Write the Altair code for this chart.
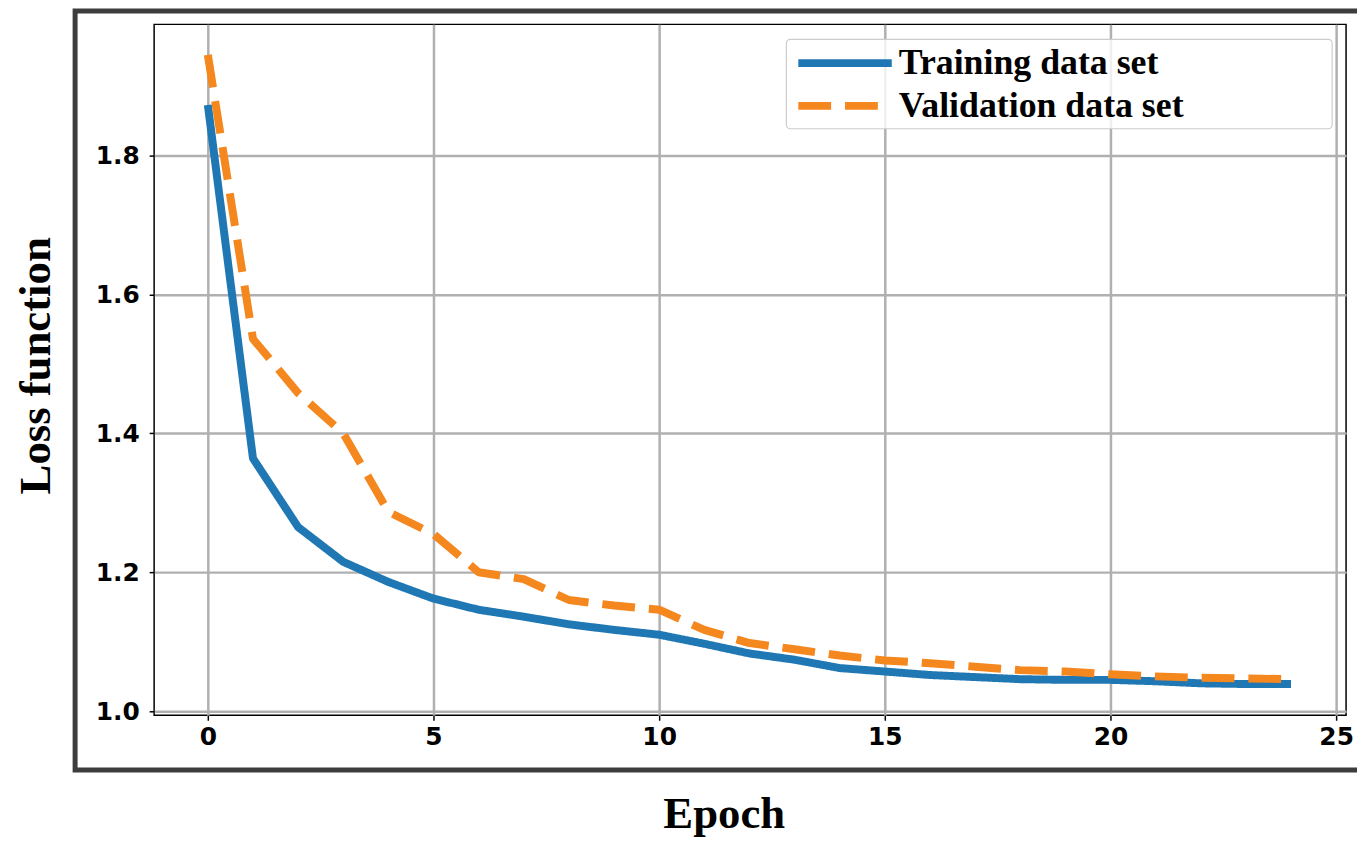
import altair as alt
import pandas as pd

# ---- data ----
epochs = list(range(25))
train_loss = [1.873, 1.364, 1.265, 1.215, 1.186, 1.162, 1.146, 1.136, 1.125, 1.117,
              1.110, 1.097, 1.083, 1.074, 1.062, 1.057, 1.052, 1.049, 1.046, 1.045,
              1.045, 1.043, 1.040, 1.039, 1.039]
valid_loss = [1.945, 1.536, 1.458, 1.400, 1.287, 1.255, 1.200, 1.190, 1.160, 1.152,
              1.146, 1.117, 1.098, 1.089, 1.080, 1.073, 1.069, 1.064, 1.059, 1.057,
              1.053, 1.050, 1.048, 1.047, 1.046]
series_names = ["Training data set", "Validation data set"]
x_ticks = [0, 5, 10, 15, 20, 25]
y_ticks = [1.0, 1.2, 1.4, 1.6, 1.8]

df = pd.DataFrame({
    "epoch": epochs + epochs,
    "loss": train_loss + valid_loss,
    "series": [series_names[0]] * len(epochs) + [series_names[1]] * len(epochs),
})

blue = "#1f77b4"
orange = "#f5871f"

legend = alt.Legend(
    title=None,
    orient="none",
    legendX=637,
    legendY=15,
    symbolType="stroke",
    symbolSize=8836,
    symbolStrokeWidth=8,
    clipHeight=34,
    rowPadding=7,
    padding=7,
    labelOffset=3,
    labelFont="Liberation Serif",
    labelFontWeight="bold",
    labelFontSize=36,
    labelColor="black",
    labelLimit=800,
)

lines = alt.Chart(df).mark_line(strokeWidth=8, strokeJoin="round").encode(
    x=alt.X(
        "epoch:Q",
        scale=alt.Scale(domain=[-1.19, 25.22], nice=False, zero=False),
        axis=alt.Axis(
            values=x_ticks, format="d", title="Epoch",
            titleFontSize=45, titleX=573, titleY=113,
            titleAlign="center", titleBaseline="alphabetic",
            labelPadding=4,
        ),
    ),
    y=alt.Y(
        "loss:Q",
        scale=alt.Scale(domain=[0.994, 1.989], nice=False, zero=False),
        axis=alt.Axis(
            values=y_ticks, format=".1f", title="Loss function",
            titleFontSize=45, titleX=-105, titleY=343, titleAngle=270,
            titleAlign="center", titleBaseline="alphabetic",
            labelPadding=10,
        ),
    ),
    color=alt.Color(
        "series:N",
        scale=alt.Scale(domain=series_names, range=[blue, orange]),
        legend=legend,
    ),
    strokeDash=alt.StrokeDash(
        "series:N",
        scale=alt.Scale(domain=series_names, range=[[1, 0], [33, 14]]),
        legend=legend,
    ),
)

one_row = pd.DataFrame({"k": [0]})

# legend frame (decoration behind the legend entries)
legend_frame = alt.Chart(one_row).mark_rect(
    fill="white", fillOpacity=0.8, stroke="#cccccc", strokeWidth=1.2, cornerRadius=4
).encode(
    x=alt.value(636), x2=alt.value(1185), y=alt.value(15), y2=alt.value(105)
)

# outer dark frame around the figure
border = alt.Chart(one_row).mark_rect(
    fillOpacity=0, stroke="#3d3d3d", strokeWidth=5
).encode(
    x=alt.value(-79.5), x2=alt.value(1245), y=alt.value(-13.5), y2=alt.value(750)
)

chart = alt.layer(border, lines, legend_frame).properties(
    width=1199,
    height=695,
    autosize=alt.AutoSizeParams(type="none"),
    padding={"left": 147, "top": 14, "right": 11, "bottom": 125},
    background="white",
).configure_view(
    stroke="black", strokeWidth=1.5
).configure_axis(
    gridColor="#b0b0b0", gridWidth=2.5,
    tickColor="black", tickWidth=1.5, tickSize=5,
    domain=False,
    labelFont="DejaVu Sans", labelFontWeight="bold", labelFontSize=25, labelColor="black",
    titleFont="Liberation Serif", titleFontWeight="bold", titleColor="black",
)

chart.save("out.html", embed_options={"renderer": "svg", "actions": False})
